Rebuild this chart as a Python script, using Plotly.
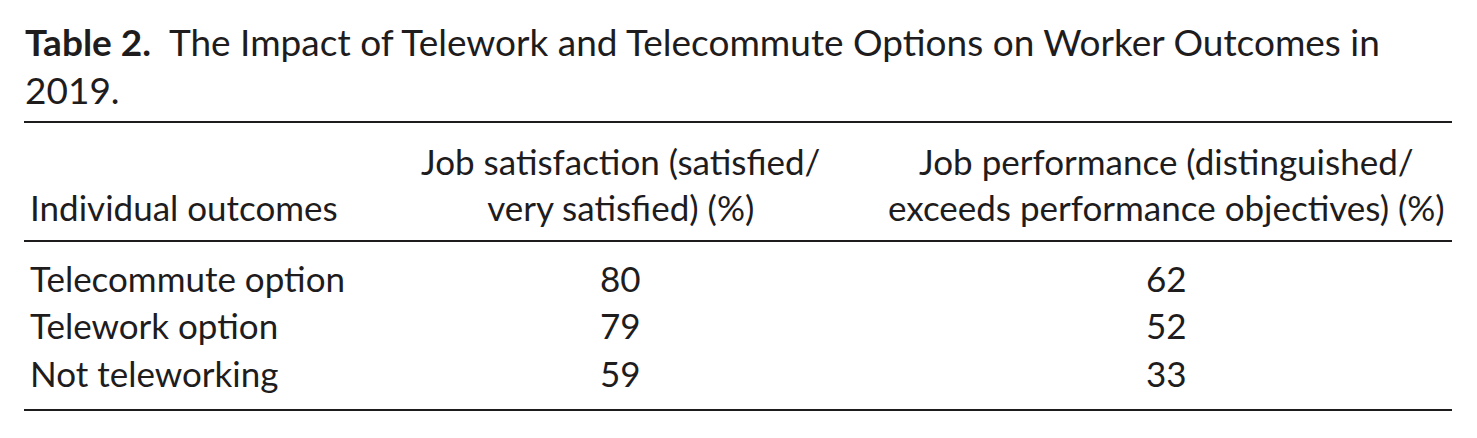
import plotly.graph_objects as go

W, H = 1477, 438

# Table data
row_labels = ["Telecommute option", "Telework option", "Not teleworking"]
job_satisfaction = [80, 79, 59]
job_performance = [62, 52, 33]
col_headers = [
    "Individual outcomes",
    "Job satisfaction (satisfied/<br>very satisfied) (%)",
    "Job performance (distinguished/<br>exceeds performance objectives) (%)",
]
title_bold = "Table 2."
title_rest = "  The Impact of Telework and Telecommute Options on Worker Outcomes in<br>2019."

FONT = "Lato"
FS = 35
FS_TITLE = 37
INK = "#1e1c1d"

# layout in pixels (top-left origin of the page)
col_x = [28, 620, 1166]
row_y = [278, 325, 373]
header_y = 184
rules_y = [122, 241, 410]
rule_x0, rule_x1 = 24, 1452
OFF = 8  # page body margin


def px(x):
    return (x - OFF) / W


def py(y):
    return 1 - (y - OFF) / H


fig = go.Figure()
annotations = []

# title
annotations.append(dict(
    x=px(23), y=py(17), xref="paper", yref="paper", xanchor="left", yanchor="top",
    text="<b>" + title_bold + "</b>" + title_rest, showarrow=False, align="left",
    font=dict(family=FONT, size=FS_TITLE, color=INK),
))

# header row
annotations.append(dict(
    x=px(col_x[0]), y=py(207), xref="paper", yref="paper", xanchor="left", yanchor="middle",
    text=col_headers[0], showarrow=False, align="left",
    font=dict(family=FONT, size=FS, color=INK),
))
for cx, hdr in zip(col_x[1:], col_headers[1:]):
    annotations.append(dict(
        x=px(cx), y=py(header_y), xref="paper", yref="paper", xanchor="center", yanchor="middle",
        text=hdr, showarrow=False, align="center",
        font=dict(family=FONT, size=FS, color=INK),
    ))

# body rows
for ry, lab, s, p in zip(row_y, row_labels, job_satisfaction, job_performance):
    annotations.append(dict(
        x=px(col_x[0]), y=py(ry), xref="paper", yref="paper", xanchor="left", yanchor="middle",
        text=lab, showarrow=False, font=dict(family=FONT, size=FS, color=INK),
    ))
    for cx, v in zip(col_x[1:], [s, p]):
        annotations.append(dict(
            x=px(cx), y=py(ry), xref="paper", yref="paper", xanchor="center", yanchor="middle",
            text=str(v), showarrow=False, font=dict(family=FONT, size=FS, color=INK),
        ))

shapes = [
    dict(type="line", xref="paper", yref="paper", x0=px(rule_x0), x1=px(rule_x1),
         y0=py(ry), y1=py(ry), line=dict(color=INK, width=2))
    for ry in rules_y
]

fig.update_layout(
    width=W, height=H,
    margin=dict(l=0, r=0, t=0, b=0),
    paper_bgcolor="white", plot_bgcolor="white",
    xaxis=dict(visible=False), yaxis=dict(visible=False),
    annotations=annotations, shapes=shapes,
    showlegend=False,
)

fig.write_html("out.html")
